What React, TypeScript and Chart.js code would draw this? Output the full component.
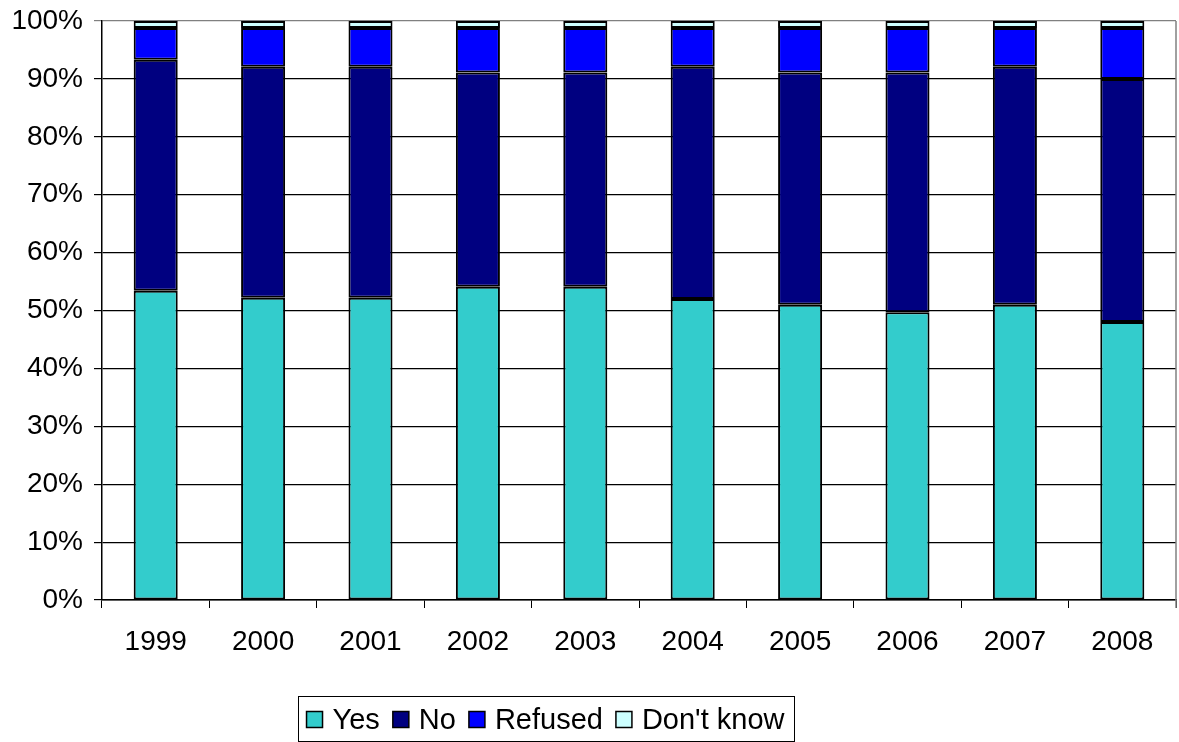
import React, { useEffect, useRef } from "react";
import { Chart, registerables } from "chart.js";

Chart.register(...registerables);

const categories = ["1999", "2000", "2001", "2002", "2003", "2004", "2005", "2006", "2007", "2008"];
const yesValues = [53.4, 52.2, 52.2, 54.1, 54.1, 52.0, 51.0, 49.7, 51.0, 48.0];
const noValues = [39.9, 39.9, 39.9, 37.0, 37.0, 40.1, 40.1, 41.4, 41.1, 42.0];
const refusedValues = [5.5, 6.7, 6.7, 7.7, 7.7, 6.7, 7.7, 7.7, 6.7, 8.8];
const dontKnowValues = [1.2, 1.2, 1.2, 1.2, 1.2, 1.2, 1.2, 1.2, 1.2, 1.2];
const seriesNames = ["Yes", "No", "Refused", "Don't know"];
const seriesColors = ["#33CCCC", "#000080", "#0000FF", "#CCFFFF"];

const FONT = "'Liberation Sans', Arial, sans-serif";
const TICK_SIZE = 28;
const LEGEND_SIZE = 29;

const frameAndLegend = {
  id: "frameAndLegend",
  afterDraw(chart: any) {
    const ctx = chart.ctx;
    const a = chart.chartArea;
    ctx.save();
    ctx.strokeStyle = "#808080";
    ctx.lineWidth = 1.5;
    ctx.beginPath();
    ctx.moveTo(a.right, a.top);
    ctx.lineTo(a.right, a.bottom + 8);
    ctx.stroke();

    const names = chart.data.datasets.map((d: any) => d.label);
    const colors = chart.data.datasets.map((d: any) => d.backgroundColor);
    ctx.font = `${LEGEND_SIZE}px ${FONT}`;
    const box = 16;
    const gapBoxText = 10;
    const gapItems = 13;
    const widths = names.map((n: string) => ctx.measureText(n).width);
    let total = 0;
    widths.forEach((w: number, i: number) => {
      total += box + gapBoxText + w + (i < widths.length - 1 ? gapItems : 0);
    });
    const padX = 9;
    const cx = 545.5;
    const left = cx - total / 2 - padX;
    const right = cx + total / 2 + padX;
    const top = 696;
    const bottom = 741;
    ctx.strokeStyle = "#000000";
    ctx.lineWidth = 1;
    ctx.strokeRect(Math.round(left) + 0.5, top + 0.5, Math.round(right - left), bottom - top);
    let x = left + padX;
    const midY = (top + bottom) / 2 + 1;
    names.forEach((n: string, i: number) => {
      ctx.fillStyle = colors[i];
      ctx.fillRect(x, midY - box / 2, box, box);
      ctx.strokeStyle = "#000000";
      ctx.lineWidth = 1.5;
      ctx.strokeRect(x, midY - box / 2, box, box);
      ctx.fillStyle = "#000000";
      ctx.textBaseline = "middle";
      ctx.textAlign = "left";
      ctx.fillText(n, x + box + gapBoxText, midY + 1);
      x += box + gapBoxText + widths[i] + gapItems;
    });
    ctx.restore();
  },
};

export default function App() {
  const ref = useRef<HTMLCanvasElement | null>(null);
  useEffect(() => {
    document.body.style.margin = "0";
    const values = [yesValues, noValues, refusedValues, dontKnowValues];
    const chart = new Chart(ref.current as HTMLCanvasElement, {
      type: "bar",
      data: {
        labels: categories,
        datasets: values.map((v, i) => ({
          label: seriesNames[i],
          data: v,
          backgroundColor: seriesColors[i],
          borderColor: "#000000",
          borderWidth: 2,
          borderSkipped: false,
          barPercentage: 0.41,
          categoryPercentage: 1,
        })),
      },
      options: {
        responsive: false,
        animation: false,
        maintainAspectRatio: false,
        layout: { padding: { left: 0, right: 3, top: 21, bottom: 0 } },
        plugins: { legend: { display: false }, tooltip: { enabled: false } },
        scales: {
          x: {
            stacked: true,
            offset: true,
            grid: {
              offset: true,
              drawOnChartArea: false,
              drawTicks: true,
              tickLength: 8,
              color: "#000000",
              lineWidth: 1,
            },
            border: { color: "#000000", width: 1.5 },
            ticks: {
              color: "#000000",
              padding: 17,
              font: { family: FONT, size: TICK_SIZE },
              maxRotation: 0,
            },
            afterFit: (s: any) => {
              s.height = 142;
              s.paddingLeft = 0;
              s.paddingRight = 0;
            },
          },
          y: {
            stacked: true,
            min: 0,
            max: 100,
            grid: {
              color: (c: any) => (c.tick && c.tick.value === 100 ? "#808080" : "#000000"),
              lineWidth: 1.2,
              drawTicks: true,
              tickLength: 8,
            },
            border: { color: "#000000", width: 1.5 },
            ticks: {
              stepSize: 10,
              color: "#000000",
              padding: 11,
              font: { family: FONT, size: TICK_SIZE },
              callback: (v: any) => `${v}%`,
            },
            afterFit: (s: any) => {
              s.width = 102;
              s.paddingTop = 0;
              s.paddingBottom = 0;
            },
          },
        },
      },
      plugins: [frameAndLegend],
    } as any);
    return () => chart.destroy();
  }, []);
  return (
    <div style={{ width: 1179, height: 742 }}>
      <canvas ref={ref} width={1179} height={742} style={{ display: "block" }} />
    </div>
  );
}
